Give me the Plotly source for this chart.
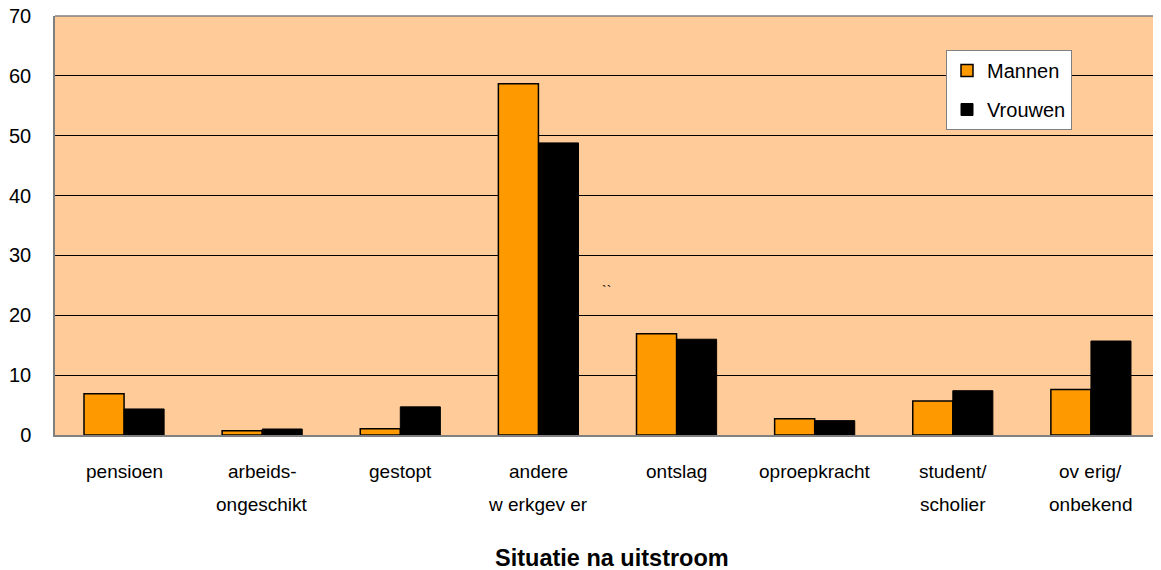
import plotly.graph_objects as go

categories = ["pensioen", "arbeids-ongeschikt", "gestopt", "andere werkgever",
              "ontslag", "oproepkracht", "student/scholier", "overig/onbekend"]
label_line1 = ["pensioen", "arbeids-", "gestopt", "andere", "ontslag", "oproepkracht", "student/", "ov erig/"]
label_line2 = ["", "ongeschikt", "", "w erkgev er", "", "", "scholier", "onbekend"]
mannen = [6.9, 0.7, 1.05, 58.7, 16.9, 2.7, 5.7, 7.6]
vrouwen = [4.35, 1.0, 4.7, 48.8, 16.0, 2.4, 7.4, 15.7]
y_ticks = [0, 10, 20, 30, 40, 50, 60, 70]

OFF = 8  # page body offset
W, H = 1161 - OFF, 570 - OFF
L, R, T = 55 - OFF, 1, 16 - OFF
B = H - (435 - OFF)
plot_h = H - T - B
plot_w = W - L - R

fig = go.Figure()
fig.add_trace(go.Bar(name="Mannen", x=categories, y=mannen, legendgroup="m",
                     marker=dict(color="#FF9900", line=dict(color="black", width=1.5))))
fig.add_trace(go.Bar(name="Vrouwen", x=categories, y=vrouwen, legendgroup="v",
                     marker=dict(color="black", line=dict(color="black", width=1))))

ann = []
narrow = "Liberation Sans Narrow, Arial Narrow, Liberation Sans, Arial"
for c, l1, l2 in zip(categories, label_line1, label_line2):
    ann.append(dict(x=c, xref="x", y=-36 / plot_h, yref="paper", text=l1, showarrow=False,
                    yanchor="middle", xanchor="center", font=dict(family=narrow, size=19, color="black")))
    if l2:
        ann.append(dict(x=c, xref="x", y=-70 / plot_h, yref="paper", text=l2, showarrow=False,
                        yanchor="middle", xanchor="center", font=dict(family=narrow, size=19, color="black")))
ann.append(dict(x=(612 - 55) / plot_w, xref="paper", y=-123 / plot_h, yref="paper",
                text="<b>Situatie na uitstroom</b>",
                showarrow=False, yanchor="middle", xanchor="center",
                font=dict(family="Liberation Sans, Arial", size=23.5, color="black")))
ann.append(dict(x=(606 - 55) / plot_w, xref="paper", y=(435 - 301) / plot_h, yref="paper", text="``",
                showarrow=False, font=dict(family="Liberation Sans, Arial", size=14, color="black")))

fig.update_layout(
    width=W, height=H,
    margin=dict(l=L, r=R, t=T, b=B, pad=0, autoexpand=False),
    paper_bgcolor="white",
    plot_bgcolor="#FFCC99",
    barmode="group",
    bargap=0.42,
    bargroupgap=0,
    font=dict(family="Liberation Sans, Arial", size=20, color="black"),
    showlegend=True,
    legend=dict(x=(946 - 55) / plot_w, y=(435 - 50) / plot_h, xanchor="left", yanchor="top",
                bgcolor="white", bordercolor="#808080", borderwidth=1,
                font=dict(family="Liberation Sans, Arial", size=20, color="black"),
                tracegroupgap=10),
    annotations=ann,
    xaxis=dict(showticklabels=False, showgrid=False, showline=True, linecolor="#808080", linewidth=1.5,
               mirror=False, ticks="", range=[-0.5, 7.5], automargin=False),
    yaxis=dict(range=[0, 70], tickvals=y_ticks, showgrid=True, gridcolor="black", gridwidth=1,
               showline=True, linecolor="#808080", linewidth=1.5, ticks="outside", ticklen=18,
               tickcolor="rgba(0,0,0,0)", zeroline=False, ticklabeloverflow="allow", automargin=False,
               tickfont=dict(family="Liberation Sans, Arial", size=20, color="black")),
)
fig.add_shape(type="line", xref="paper", yref="paper", x0=0, x1=1, y0=1, y1=1,
              line=dict(color="#808080", width=1.5))

fig.write_html("out.html")
